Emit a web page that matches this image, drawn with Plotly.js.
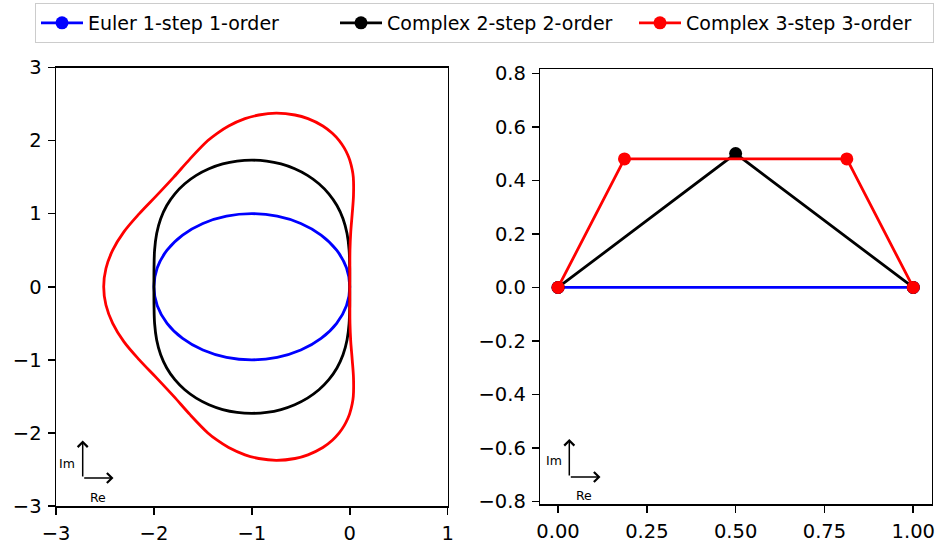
<!DOCTYPE html>
<html>
<head>
<meta charset="utf-8">
<script src="https://cdn.plot.ly/plotly-3.0.1.min.js"></script>
<style>
html,body{margin:0;padding:0;background:#fff;}
#chart{width:940px;height:547px;}
</style>
</head>
<body>
<div id="chart"></div>
<script>
// ---- Data ----
const seriesNames = ["Euler 1-step 1-order", "Complex 2-step 2-order", "Complex 3-step 3-order"];
const seriesColors = ["#0000ff", "#000000", "#ff0000"];

// Left panel: stability-region boundaries in the complex plane
const eulerRe = [0,-0.034,-0.134,-0.293,-0.5,-0.741,-1,-1.259,-1.5,-1.707,-1.866,-1.966,-2,-1.966,-1.866,-1.707,-1.5,-1.259,-1,-0.741,-0.5,-0.293,-0.134,-0.034,0];
const eulerIm = [0,0.259,0.5,0.707,0.866,0.966,1,0.966,0.866,0.707,0.5,0.259,0,-0.259,-0.5,-0.707,-0.866,-0.966,-1,-0.966,-0.866,-0.707,-0.5,-0.259,0];

const c2Re = [0,-0.001,-0.007,-0.028,-0.069,-0.131,-0.214,-0.315,-0.432,-0.562,-0.702,-0.849,-1,-1.151,-1.298,-1.438,-1.568,-1.685,-1.786,-1.869,-1.931,-1.972,-1.993,-1.999,-2,
              -1.999,-1.993,-1.972,-1.931,-1.869,-1.786,-1.685,-1.568,-1.438,-1.298,-1.151,-1,-0.849,-0.702,-0.562,-0.432,-0.315,-0.214,-0.131,-0.069,-0.028,-0.007,-0.001,0];
const c2Im = [0,0.259,0.504,0.728,0.931,1.112,1.272,1.410,1.524,1.614,1.680,1.719,1.732,1.719,1.680,1.614,1.524,1.410,1.272,1.112,0.931,0.728,0.504,0.259,0,
              -0.259,-0.504,-0.728,-0.931,-1.112,-1.272,-1.410,-1.524,-1.614,-1.680,-1.719,-1.732,-1.719,-1.680,-1.614,-1.524,-1.410,-1.272,-1.112,-0.931,-0.728,-0.504,-0.259,0];

const c3Re = [0,0.001,0.002,0.010,0.025,0.038,0.036,0.025,0,-0.019,-0.057,-0.108,-0.178,-0.275,-0.427,-0.559,-0.75,-0.929,-1.070,-1.237,-1.354,-1.449,-1.631,-1.797,-1.971,-2.149,-2.307,-2.421,-2.490,-2.513,
              -2.490,-2.421,-2.307,-2.149,-1.971,-1.797,-1.631,-1.449,-1.354,-1.237,-1.070,-0.929,-0.75,-0.559,-0.427,-0.275,-0.178,-0.108,-0.057,-0.019,0,0.025,0.036,0.038,0.025,0.010,0.002,0.001,0];
const c3Im = [0,0.25,0.5,0.75,1.0,1.25,1.5,1.6,1.732,1.8,1.9,2.0,2.1,2.2,2.3,2.35,2.375,2.35,2.3,2.2,2.1,2.0,1.75,1.5,1.25,1.0,0.75,0.5,0.25,0,
              -0.25,-0.5,-0.75,-1.0,-1.25,-1.5,-1.75,-2.0,-2.1,-2.2,-2.3,-2.35,-2.375,-2.35,-2.3,-2.2,-2.1,-2.0,-1.9,-1.8,-1.732,-1.6,-1.5,-1.25,-1.0,-0.75,-0.5,-0.25,0];

// Right panel: stage nodes in the complex plane
const eulerNodeRe = [0, 1];
const eulerNodeIm = [0, 0];
const c2NodeRe = [0, 0.5, 1];
const c2NodeIm = [0, 0.5, 0];
const c3NodeRe = [0, 0.187, 0.813, 1];
const c3NodeIm = [0, 0.48, 0.48, 0];

// Tick labels
const leftXTicks = [-3, -2, -1, 0, 1];
const leftXText = ["\u22123", "\u22122", "\u22121", "0", "1"];
const leftYTicks = [-3, -2, -1, 0, 1, 2, 3];
const leftYText = ["\u22123", "\u22122", "\u22121", "0", "1", "2", "3"];
const rightXTicks = [0, 0.25, 0.5, 0.75, 1];
const rightXText = ["0.00", "0.25", "0.50", "0.75", "1.00"];
const rightYTicks = [-0.8, -0.6, -0.4, -0.2, 0, 0.2, 0.4, 0.6, 0.8];
const rightYText = ["\u22120.8", "\u22120.6", "\u22120.4", "\u22120.2", "0.0", "0.2", "0.4", "0.6", "0.8"];

// ---- Traces ----
const LW = 2.8;
const curves = [[eulerRe, eulerIm], [c2Re, c2Im], [c3Re, c3Im]];
const nodes = [[eulerNodeRe, eulerNodeIm], [c2NodeRe, c2NodeIm], [c3NodeRe, c3NodeIm]];
const traces = [];
curves.forEach((c, i) => {
  traces.push({
    x: c[0], y: c[1], xaxis: "x", yaxis: "y", type: "scatter", mode: "lines",
    line: {color: seriesColors[i], width: LW, shape: "spline", smoothing: 1},
    showlegend: false, hoverinfo: "skip"
  });
});
nodes.forEach((n, i) => {
  traces.push({
    x: n[0], y: n[1], xaxis: "x2", yaxis: "y2", type: "scatter", mode: "lines+markers",
    name: seriesNames[i],
    line: {color: seriesColors[i], width: LW},
    marker: {color: seriesColors[i], size: 13},
    showlegend: true
  });
});

const tickFont = {family: "DejaVu Sans", size: 19.5, color: "#000"};
function axisBase(extra) {
  return Object.assign({
    showgrid: false, zeroline: false, showline: true, mirror: true,
    linecolor: "#000", linewidth: 1.5, ticks: "outside", ticklen: 7, tickwidth: 1.5,
    tickcolor: "#000", tickfont: tickFont, tickmode: "array", ticklabelstandoff: 2,
    fixedrange: true
  }, extra);
}

const W = 940, H = 547;
function px(x) { return x / W; }
function py(y) { return 1 - y / H; }

const arrowCommon = {xref: "paper", yref: "paper", axref: "pixel", ayref: "pixel", text: "",
  showarrow: true, arrowhead: 4, arrowsize: 1.3, arrowwidth: 1.5, arrowcolor: "#000"};
const labelCommon = {xref: "paper", yref: "paper", showarrow: false,
  font: {family: "DejaVu Sans", size: 12.5, color: "#000"}, xanchor: "center", yanchor: "middle"};

const annotations = [
  Object.assign({}, arrowCommon, {x: px(82.7), y: py(440.5), ax: 0, ay: 37.5}),
  Object.assign({}, arrowCommon, {x: px(113.5), y: py(478), ax: -30.8, ay: 0}),
  Object.assign({}, labelCommon, {x: px(67), y: py(463), text: "Im"}),
  Object.assign({}, labelCommon, {x: px(97.5), y: py(497), text: "Re"}),
  Object.assign({}, arrowCommon, {x: px(569.3), y: py(439), ax: 0, ay: 38}),
  Object.assign({}, arrowCommon, {x: px(600.5), y: py(477), ax: -31.2, ay: 0}),
  Object.assign({}, labelCommon, {x: px(554), y: py(460.5), text: "Im"}),
  Object.assign({}, labelCommon, {x: px(583.5), y: py(495), text: "Re"})
];

const layout = {
  width: W, height: H,
  margin: {l: 0, r: 0, t: 0, b: 0},
  paper_bgcolor: "#fff", plot_bgcolor: "#fff",
  font: {family: "DejaVu Sans", color: "#000"},
  showlegend: true,
  legend: {
    orientation: "h", x: px(35), y: py(3), xanchor: "left", yanchor: "top",
    bgcolor: "#fff", bordercolor: "#cccccc", borderwidth: 1,
    font: {family: "DejaVu Sans", size: 19, color: "#000"},
    itemwidth: 42, tracegroupgap: 0,
    entrywidth: 242, entrywidthmode: "pixels"
  },
  xaxis: axisBase({domain: [px(56), px(447.7)], range: [-3, 1], anchor: "y",
    tickvals: leftXTicks, ticktext: leftXText}),
  yaxis: axisBase({domain: [py(506), py(67.5)], range: [-3, 3], anchor: "x",
    tickvals: leftYTicks, ticktext: leftYText}),
  xaxis2: axisBase({domain: [px(540.3), px(931.7)], range: [-0.05, 1.052], anchor: "y2",
    tickvals: rightXTicks, ticktext: rightXText}),
  yaxis2: axisBase({domain: [py(504.3), py(69)], range: [-0.81, 0.816], anchor: "x2",
    tickvals: rightYTicks, ticktext: rightYText}),
  annotations: annotations
};

Plotly.newPlot("chart", traces, layout, {displayModeBar: false, staticPlot: true});
</script>
</body>
</html>
